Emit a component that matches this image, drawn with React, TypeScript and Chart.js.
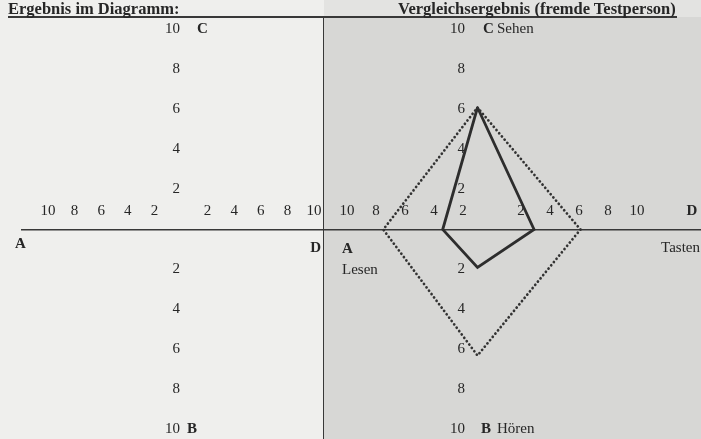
import React, { useEffect, useRef } from 'react';
import { Chart, registerables } from 'chart.js';

Chart.register(...registerables);

// ---- data ----
const TICK_VALUES = [-10, -8, -6, -4, -2, 2, 4, 6, 8, 10];
const AXIS_KEYS = ['A', 'B', 'C', 'D'];
const SENSE_NAMES = ['Lesen', 'Hören', 'Sehen', 'Tasten'];
const TITLES = ['Ergebnis im Diagramm:', 'Vergleichsergebnis (fremde Testperson)'];

// polygon vertices in order C, D, B, A, C (closed)
const SOLID_X = [-1.0, 2.9, -1.0, -3.4, -1.0];
const SOLID_Y = [6.1, 0, -1.9, 0, 6.1];
const DOTTED_X = [-1.0, 6.1, -1.0, -7.5, -1.0];
const DOTTED_Y = [6.1, 0, -6.3, 0, 6.1];

const TEXT_COLOR = '#262626';
const LINE_COLOR = '#383838';
const FONT = '"Liberation Serif", "Times New Roman", serif';

function toPoints(xs: number[], ys: number[]) {
  return xs.map((x, i) => ({ x, y: ys[i] }));
}

function drawText(ctx: CanvasRenderingContext2D, text: string, x: number, y: number, align: CanvasTextAlign, bold: boolean) {
  ctx.save();
  ctx.font = `${bold ? 'bold ' : ''}15px ${FONT}`;
  ctx.fillStyle = TEXT_COLOR;
  ctx.textAlign = align;
  ctx.textBaseline = 'middle';
  ctx.fillText(text, x, y);
  ctx.restore();
}

function makeScales(xMin: number, xMax: number, yLabelAt: number) {
  const tickFont = { family: FONT, size: 15 };
  const setTicks = (scale: any) => {
    scale.ticks = TICK_VALUES.map((v) => ({ value: v }));
  };
  return {
    x: {
      type: 'linear',
      min: xMin,
      max: xMax,
      position: { y: 0 },
      grid: { display: false, drawTicks: false },
      border: { display: true, color: LINE_COLOR, width: 1.6 },
      afterBuildTicks: setTicks,
      ticks: {
        autoSkip: false,
        maxRotation: 0,
        padding: -27.5,
        color: TEXT_COLOR,
        font: tickFont,
        callback: (v: any) => String(Math.abs(Number(v))),
      },
    },
    y: {
      type: 'linear',
      min: -10.025,
      max: 10.475,
      position: { x: yLabelAt },
      grid: { display: false, drawTicks: false },
      border: { display: false },
      afterBuildTicks: setTicks,
      ticks: {
        autoSkip: false,
        padding: 0,
        color: TEXT_COLOR,
        font: tickFont,
        callback: (v: any) => String(Math.abs(Number(v))),
      },
    },
  };
}

const leftLabels = {
  id: 'leftLabels',
  afterDraw(chart: any) {
    const { ctx, chartArea } = chart;
    const xs = chart.scales.x;
    const ys = chart.scales.y;
    const cx = xs.getPixelForValue(0);
    const cy = ys.getPixelForValue(0);
    drawText(ctx, AXIS_KEYS[2], cx + 16, ys.getPixelForValue(10), 'left', true);
    drawText(ctx, AXIS_KEYS[1], cx + 6, ys.getPixelForValue(-10), 'left', true);
    drawText(ctx, AXIS_KEYS[0], chartArea.left - 7, cy + 15, 'left', true);
    drawText(ctx, AXIS_KEYS[3], chartArea.right - 2, cy + 19, 'right', true);
  },
};

const rightLabels = {
  id: 'rightLabels',
  afterDraw(chart: any) {
    const { ctx, chartArea } = chart;
    const xs = chart.scales.x;
    const ys = chart.scales.y;
    const cx = xs.getPixelForValue(0);
    const cy = ys.getPixelForValue(0);
    const top = ys.getPixelForValue(10);
    const bottom = ys.getPixelForValue(-10);
    drawText(ctx, AXIS_KEYS[2], cx - 9, top, 'left', true);
    drawText(ctx, SENSE_NAMES[2], cx + 5, top, 'left', false);
    drawText(ctx, AXIS_KEYS[1], cx - 11, bottom, 'left', true);
    drawText(ctx, SENSE_NAMES[1], cx + 5, bottom, 'left', false);
    drawText(ctx, AXIS_KEYS[3], chartArea.right - 9, cy - 18.5, 'center', true);
    drawText(ctx, AXIS_KEYS[0], chartArea.left + 19, cy + 20, 'left', true);
    drawText(ctx, SENSE_NAMES[0], chartArea.left + 19, cy + 41, 'left', false);
    drawText(ctx, SENSE_NAMES[3], chartArea.right - 1, cy + 19, 'right', false);
  },
};

export default function App() {
  const leftRef = useRef<HTMLCanvasElement | null>(null);
  const rightRef = useRef<HTMLCanvasElement | null>(null);

  useEffect(() => {
    const common = {
      responsive: false,
      animation: false,
      events: [],
      plugins: { legend: { display: false }, tooltip: { enabled: false } },
    };

    const left = new Chart(leftRef.current as HTMLCanvasElement, {
      type: 'scatter',
      data: { datasets: [] },
      options: {
        ...common,
        layout: { padding: { left: 22, right: 0, top: 20, bottom: 9 } },
        scales: makeScales(-11.955, 10.677, -0.075) as any,
      },
      plugins: [leftLabels],
    } as any);

    const right = new Chart(rightRef.current as HTMLCanvasElement, {
      type: 'scatter',
      data: {
        datasets: [
          {
            label: 'fremde Testperson',
            data: toPoints(DOTTED_X, DOTTED_Y),
            showLine: true,
            borderColor: '#333333',
            borderWidth: 2.7,
            borderDash: [0.1, 4.1],
            borderCapStyle: 'round',
            pointRadius: 0,
            fill: false,
            tension: 0,
          },
          {
            label: 'Ergebnis',
            data: toPoints(SOLID_X, SOLID_Y),
            showLine: true,
            borderColor: '#2d2d2d',
            borderWidth: 2.8,
            borderJoinStyle: 'miter',
            pointRadius: 0,
            fill: false,
            tension: 0,
          },
        ],
      },
      options: {
        ...common,
        layout: { padding: { left: 0, right: 0, top: 20, bottom: 9 } },
        scales: makeScales(-11.655, 14.414, -1.86) as any,
      },
      plugins: [rightLabels],
    } as any);

    return () => {
      left.destroy();
      right.destroy();
    };
  }, []);

  const titleStyle: React.CSSProperties = {
    position: 'absolute',
    top: 1,
    fontFamily: FONT,
    fontWeight: 'bold',
    fontSize: 16.5,
    lineHeight: '16px',
    color: TEXT_COLOR,
    whiteSpace: 'pre',
  };

  return (
    <div
      style={{
        position: 'fixed',
        left: 0,
        top: 0,
        width: 701,
        height: 439,
        overflow: 'hidden',
        background: '#efefed',
      }}
    >
      <div style={{ position: 'absolute', left: 324, top: 0, width: 377, height: 17, background: '#e3e3e1' }} />
      <div style={{ position: 'absolute', left: 324, top: 17, width: 377, height: 422, background: '#d7d7d5' }} />
      <canvas ref={leftRef} width={323} height={439} style={{ position: 'absolute', left: 0, top: 0 }} />
      <canvas ref={rightRef} width={378} height={439} style={{ position: 'absolute', left: 323, top: 0 }} />
      <div style={{ position: 'absolute', left: 8, top: 16, width: 669, height: 1.6, background: LINE_COLOR }} />
      <div style={{ position: 'absolute', left: 322.5, top: 16, width: 1.8, height: 423, background: LINE_COLOR }} />
      <div style={{ ...titleStyle, left: 8 }}>{TITLES[0]}</div>
      <div style={{ ...titleStyle, left: 398 }}>{TITLES[1]}</div>
    </div>
  );
}
